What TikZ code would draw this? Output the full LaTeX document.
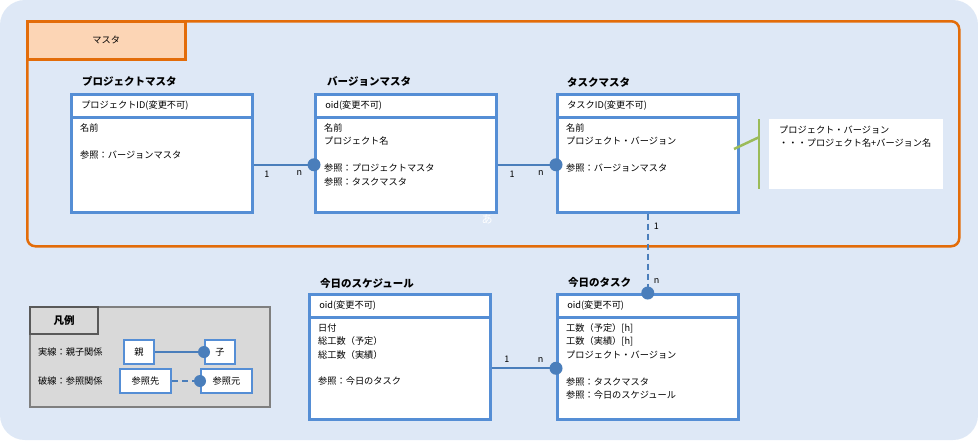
\documentclass[tikz,border=0pt]{standalone}
\usepackage{fontspec}
\setmainfont{Noto Sans CJK JP}
\usetikzlibrary{calc}

\definecolor{bgblue}{RGB}{222,232,246}
\definecolor{frameorange}{RGB}{227,108,9}
\definecolor{peach}{RGB}{252,213,181}
\definecolor{boxblue}{RGB}{85,142,213}
\definecolor{linkblue}{RGB}{74,126,187}
\definecolor{notegreen}{RGB}{155,187,89}
\definecolor{legendfill}{RGB}{217,217,217}
\definecolor{legendline}{RGB}{127,127,127}
\definecolor{legenddark}{RGB}{89,89,89}

\begin{document}
\begin{tikzpicture}[
        x=1pt, y=-1pt,
        every node/.style={font=\fontsize{9.2}{13.4}\selectfont},
        head/.style={
            draw=boxblue,
            line width=2.5pt,
            fill=white,
            minimum width=181pt,
            minimum height=23pt,
            text width=161pt,
            inner xsep=0pt,
            align=left,
            anchor=north west
        },
        body/.style={
            draw=boxblue,
            line width=2.5pt,
            fill=white,
            minimum width=181pt,
            anchor=north west
        },
        attr/.style={
            align=left,
            anchor=north west,
            inner sep=0pt
        },
        ttl/.style={
            anchor=west,
            inner sep=0pt,
            font=\fontsize{10.5}{12}\selectfont\bfseries
        },
        lbl/.style={inner sep=1pt, text=black, font=\fontsize{9}{10}\selectfont},
        link/.style={linkblue, line width=2pt},
        ref/.style={link, dash pattern=on 6pt off 4pt},
        smallbox/.style={
            draw=boxblue,
            line width=2pt,
            fill=white,
            minimum height=24pt,
            inner sep=0pt
        },
        callout/.style={notegreen, line width=2.5pt}
    ]

    % Background
    \useasboundingbox (0,0) rectangle (978,440);
    \fill[white] (0,0) rectangle (978,440);
    \fill[bgblue, rounded corners=25pt] (0,0) rectangle (978,440);

    % Master frame
    \node[draw=frameorange, line width=2.5pt, rounded corners=8pt,
          minimum width=932pt, minimum height=225pt, anchor=north west] (master) at (26,20) {};
    \node[draw=frameorange, fill=peach, line width=2.5pt,
          minimum width=158pt, minimum height=38pt, anchor=north west] (masterlbl) at (26,20) {マスタ};

    % Entity boxes
    \node[ttl] (projttl) at (82,81) {プロジェクトマスタ};
    \node[head] (projhead) at (70,93) {プロジェクトID(変更不可)};
    \node[body, minimum height=95pt] (projbody) at (70,116) {};
    \node[attr] at ([xshift=10pt,yshift=-7.5pt]projbody.north west) {名前\\[13.4pt]参照：バージョンマスタ};

    \node[ttl] (verttl) at (327,81) {バージョンマスタ};
    \node[head] (verhead) at (314,93) {oid(変更不可)};
    \node[body, minimum height=95pt] (verbody) at (314,116) {};
    \node[attr] at ([xshift=10pt,yshift=-7.5pt]verbody.north west) {名前\\プロジェクト名\\[13.4pt]参照：プロジェクトマスタ\\参照：タスクマスタ};

    \node[ttl] (taskmttl) at (567,82) {タスクマスタ};
    \node[head] (taskmhead) at (556,93) {タスクID(変更不可)};
    \node[body, minimum height=95pt] (taskmbody) at (556,116) {};
    \node[attr] at ([xshift=10pt,yshift=-7.5pt]taskmbody.north west) {名前\\プロジェクト・バージョン\\[13.4pt]参照：バージョンマスタ};

    \node[ttl] (schedttl) at (320,283) {今日のスケジュール};
    \node[head] (schedhead) at (308,293) {oid(変更不可)};
    \node[body, minimum height=102pt] (schedbody) at (308,316) {};
    \node[attr] at ([xshift=10pt,yshift=-7.5pt]schedbody.north west) {日付\\総工数（予定）\\総工数（実績）\\[13.4pt]参照：今日のタスク};

    \node[ttl] (taskttl) at (568,282) {今日のタスク};
    \node[head] (taskhead) at (556,293) {oid(変更不可)};
    \node[body, minimum height=102pt] (taskbody) at (556,316) {};
    \node[attr] at ([xshift=10pt,yshift=-7.5pt]taskbody.north west) {工数（予定）[h]\\工数（実績）[h]\\プロジェクト・バージョン\\[13.4pt]参照：タスクマスタ\\参照：今日のスケジュール};

    \node[text=white, font=\fontsize{11}{12}\selectfont] (stray) at (487,219) {あ};

    % Note
    \node[fill=white, minimum width=174pt, minimum height=70pt, anchor=north west] (note) at (769,119) {};
    \node[attr] at ([xshift=10pt,yshift=-6.5pt]note.north west) {プロジェクト・バージョン\\・・・プロジェクト名+バージョン名};
    \coordinate (tip) at (734,149);
    \draw[callout] ([xshift=-10pt]note.north west) -- ([xshift=-10pt]note.south west);
    \draw[callout] (tip) -- ([xshift=-10pt,yshift=17pt]note.west);

    % Connectors
    \draw[link] (projbody.east) -- node[lbl, pos=0.22, below=4pt] {1} node[lbl, pos=0.76, below=4pt] {n} (verbody.west);
    \fill[linkblue] (verbody.west) circle (6.5pt);
    \draw[link] (verbody.east) -- node[lbl, pos=0.25, below=4pt] {1} node[lbl, pos=0.74, below=4pt] {n} (taskmbody.west);
    \fill[linkblue] (taskmbody.west) circle (6.5pt);
    \draw[link] (schedbody.east) -- node[lbl, pos=0.24, above=4pt] {1} node[lbl, pos=0.76, above=4pt] {n} (taskbody.west);
    \fill[linkblue] (taskbody.west) circle (6.5pt);
    \draw[ref] (taskmbody.south) -- node[lbl, pos=0.16, right=4pt] {1} node[lbl, pos=0.85, right=4pt] {n} (taskhead.north);
    \fill[linkblue] (taskhead.north) circle (6.5pt);

    % Legend
    \node[draw=legendline, fill=legendfill, line width=2pt,
          minimum width=240pt, minimum height=100pt, anchor=north west] (legend) at (29,306) {};
    \node[draw=legenddark, line width=2pt, minimum width=68pt, minimum height=27pt,
          anchor=north west, font=\fontsize{10.5}{12}\selectfont\bfseries] (legendttl) at (29,306) {凡例};
    \node[attr, anchor=west] (solidtxt) at (38,352) {実線：親子関係};
    \node[attr, anchor=west] (dashtxt) at (38,381) {破線：参照関係};
    \node[smallbox, minimum width=30pt] (parent) at (139,352) {親};
    \node[smallbox, minimum width=30pt] (child) at (220,352) {子};
    \node[smallbox, minimum width=51pt] (refto) at (145.5,381) {参照先};
    \node[smallbox, minimum width=51pt] (reffrom) at (226.5,381) {参照元};
    \draw[link] (parent) -- (child);
    \fill[linkblue] (child.west) circle (6pt);
    \draw[ref] (refto) -- (reffrom);
    \fill[linkblue] (reffrom.west) circle (6pt);

\end{tikzpicture}
\end{document}
